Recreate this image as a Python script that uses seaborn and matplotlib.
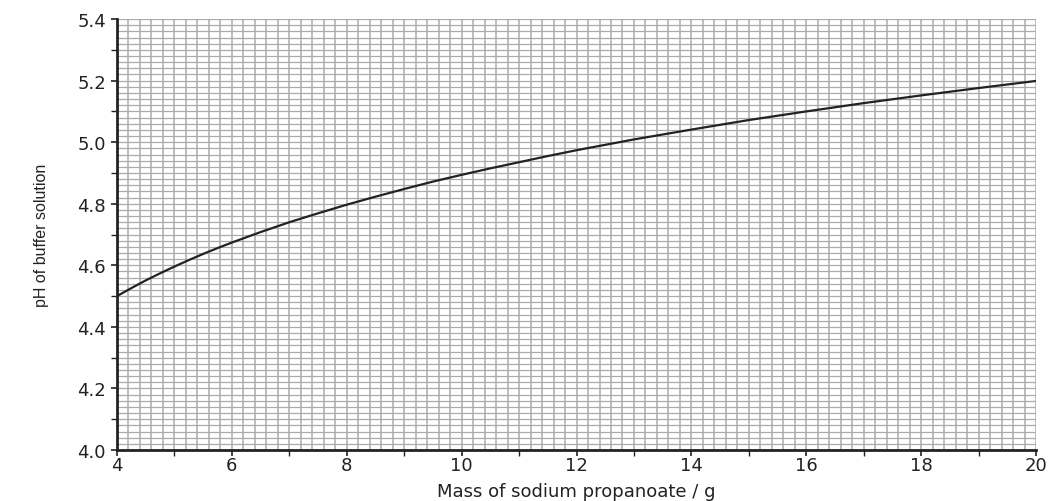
import numpy as np
import pandas as pd
import matplotlib
matplotlib.use("Agg")
import matplotlib.pyplot as plt
import seaborn as sns

# Data
mass_g = [4.00, 4.25, 4.50, 4.75, 5.00, 5.25, 5.50, 5.75, 6.00, 6.50, 7.00,
          7.50, 8.00, 8.50, 9.00, 9.50, 10.0, 10.5, 11.0, 11.5, 12.0, 13.0,
          14.0, 15.0, 16.0, 17.0, 18.0, 19.0, 20.0]
ph_values = [4.500, 4.526, 4.551, 4.574, 4.596, 4.617, 4.637, 4.656, 4.674,
             4.708, 4.740, 4.769, 4.797, 4.823, 4.848, 4.872, 4.894, 4.915,
             4.935, 4.955, 4.974, 5.009, 5.041, 5.072, 5.100, 5.127, 5.152,
             5.176, 5.199]
x_ticks = [4, 6, 8, 10, 12, 14, 16, 18, 20]
y_ticks = [4.0, 4.2, 4.4, 4.6, 4.8, 5.0, 5.2, 5.4]
x_label = "Mass of sodium propanoate / g"
y_label = "pH of buffer solution"

df = pd.DataFrame({"mass": mass_g, "ph": ph_values})

sns.set_style("white")
plt.rcParams["font.family"] = ["DejaVu Sans"]

fig = plt.figure(figsize=(10.54, 5.02), dpi=100)
ax = fig.add_axes([0.111, 0.1016, 0.872, 0.8584])

# fine graph-paper grid
grid_col = "#ababab"
ax.vlines(np.arange(4, 20.001, 0.2), 4.0, 5.4, colors=grid_col, linewidth=1.1, zorder=1)
ax.hlines(np.arange(4.0, 5.4001, 0.02), 4, 20, colors=grid_col, linewidth=0.9, zorder=1)

sns.lineplot(data=df, x="mass", y="ph", ax=ax, color="#222222", linewidth=1.6,
             zorder=3)

ax.set_xlim(4, 20)
ax.set_ylim(4.0, 5.4)
ax.set_xticks(x_ticks)
ax.set_xticklabels([str(t) for t in x_ticks])
ax.set_xticks(np.arange(5, 20, 2), minor=True)
ax.set_yticks(y_ticks)
ax.set_yticklabels([f"{t:.1f}" for t in y_ticks])
ax.set_yticks(np.arange(4.1, 5.4, 0.2), minor=True)

ax.tick_params(axis="both", which="major", direction="out", length=4, width=1.2,
               color="#222222", labelsize=13, labelcolor="#222222")
ax.tick_params(axis="x", which="major", pad=0)
ax.tick_params(axis="y", which="major", pad=4)
ax.tick_params(axis="both", which="minor", direction="out", length=4, width=1.0,
               color="#222222")
ax.tick_params(axis="x", which="both", bottom=True)
ax.tick_params(axis="y", which="both", left=True)

for s in ["top", "right"]:
    ax.spines[s].set_visible(False)
for s in ["left", "bottom"]:
    ax.spines[s].set_color("#222222")
    ax.spines[s].set_linewidth(2.0)
    ax.spines[s].set_zorder(4)

ax.set_xlabel(x_label, fontsize=13, color="#222222", labelpad=6)
ax.set_ylabel(y_label, fontsize=11.5, color="#222222", labelpad=20,
              family=["Liberation Sans", "DejaVu Sans"])

fig.savefig("out.png", dpi=100)
